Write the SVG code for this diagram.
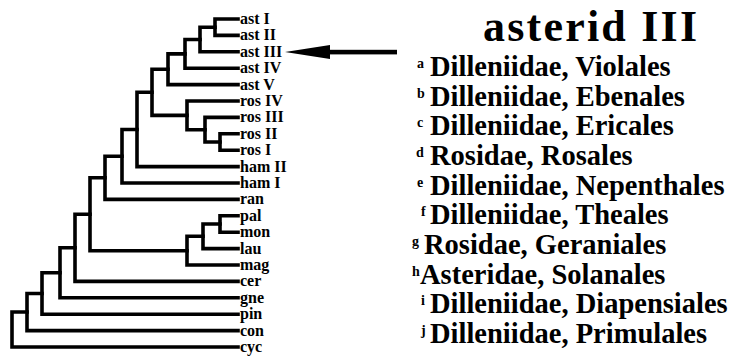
<svg xmlns="http://www.w3.org/2000/svg" width="735" height="360" viewBox="0 0 735 360">
<style>
.br{fill:none;stroke:#000;stroke-width:3.6;stroke-linecap:square;stroke-linejoin:miter}
.lf{font-family:"Liberation Serif","Times New Roman",serif;font-weight:bold;font-size:16px;fill:#000}
.lg{font-family:"Liberation Serif","Times New Roman",serif;font-weight:bold;font-size:28.5px;fill:#000}
.sp{font-family:"Liberation Serif","Times New Roman",serif;font-weight:bold;font-size:14px;fill:#000}
.tt{font-family:"Liberation Serif","Times New Roman",serif;font-weight:bold;font-size:44px;fill:#000}
</style>
<rect width="735" height="360" fill="#fff"/>
<g id="connectors">
<path class="br" d="M238 19 H215 V35.4 H238"/>
<path class="br" d="M215 27.2 H200 V51.8 H238"/>
<path class="br" d="M200 39.5 H185 V68.2 H238"/>
<path class="br" d="M185 53.9 H168 V84.6 H238"/>
<path class="br" d="M238 133.8 H220 V150.2 H238"/>
<path class="br" d="M238 117.4 H205 V142 H220"/>
<path class="br" d="M238 101 H187 V129.7 H205"/>
<path class="br" d="M168 69.2 H152 V115.4 H187"/>
<path class="br" d="M152 92.3 H137 V166.6 H238"/>
<path class="br" d="M137 129.5 H122 V183 H238"/>
<path class="br" d="M122 156.2 H105 V199.4 H238"/>
<path class="br" d="M238 215.8 H220 V232.2 H238"/>
<path class="br" d="M220 224 H203 V248.6 H238"/>
<path class="br" d="M203 236.3 H187 V265 H238"/>
<path class="br" d="M105 177.8 H90 V250.7 H187"/>
<path class="br" d="M90 214.2 H75 V281.4 H238"/>
<path class="br" d="M75 247.8 H60 V297.8 H238"/>
<path class="br" d="M60 272.8 H42 V314.2 H238"/>
<path class="br" d="M42 293.5 H27 V330.6 H238"/>
<path class="br" d="M27 312 H12 V347 H238"/>
</g>
<g id="leaf-astI"><text class="lf" x="240" y="24">ast I</text></g>
<g id="leaf-astII"><text class="lf" x="240" y="40.4">ast II</text></g>
<g id="leaf-astIII"><text class="lf" x="240" y="56.8">ast III</text></g>
<g id="leaf-astIV"><text class="lf" x="240" y="73.2">ast IV</text></g>
<g id="leaf-astV"><text class="lf" x="240" y="89.6">ast V</text></g>
<g id="leaf-rosIV"><text class="lf" x="240" y="106">ros IV</text></g>
<g id="leaf-rosIII"><text class="lf" x="240" y="122.4">ros III</text></g>
<g id="leaf-rosII"><text class="lf" x="240" y="138.8">ros II</text></g>
<g id="leaf-rosI"><text class="lf" x="240" y="155.2">ros I</text></g>
<g id="leaf-hamII"><text class="lf" x="240" y="171.6">ham II</text></g>
<g id="leaf-hamI"><text class="lf" x="240" y="188">ham I</text></g>
<g id="leaf-ran"><text class="lf" x="240" y="204.4">ran</text></g>
<g id="leaf-pal"><text class="lf" x="240" y="220.8">pal</text></g>
<g id="leaf-mon"><text class="lf" x="240" y="237.2">mon</text></g>
<g id="leaf-lau"><text class="lf" x="240" y="253.6">lau</text></g>
<g id="leaf-mag"><text class="lf" x="240" y="270">mag</text></g>
<g id="leaf-cer"><text class="lf" x="240" y="286.4">cer</text></g>
<g id="leaf-gne"><text class="lf" x="240" y="302.8">gne</text></g>
<g id="leaf-pin"><text class="lf" x="240" y="319.2">pin</text></g>
<g id="leaf-con"><text class="lf" x="240" y="335.6">con</text></g>
<g id="leaf-cyc"><text class="lf" x="240" y="352">cyc</text></g>
<g id="arrow">
<rect x="326" y="49.8" width="71" height="4.6" fill="#000"/>
<polygon points="285,52 330,45 330,59" fill="#000"/>
</g>
<g id="title"><text class="tt" x="483" y="41" textLength="214" lengthAdjust="spacing">asterid III</text></g>
<g id="legend-a"><text class="sp" x="417" y="68">a</text><text class="lg" x="430" y="76">Dilleniidae, Violales</text></g>
<g id="legend-b"><text class="sp" x="417" y="97.7">b</text><text class="lg" x="430" y="105.7">Dilleniidae, Ebenales</text></g>
<g id="legend-c"><text class="sp" x="417" y="127.3">c</text><text class="lg" x="430" y="135.3">Dilleniidae, Ericales</text></g>
<g id="legend-d"><text class="sp" x="416" y="157">d</text><text class="lg" x="430" y="165">Rosidae, Rosales</text></g>
<g id="legend-e"><text class="sp" x="417" y="186.7">e</text><text class="lg" x="430" y="194.7">Dilleniidae, Nepenthales</text></g>
<g id="legend-f"><text class="sp" x="421" y="216.3">f</text><text class="lg" x="430" y="224.3">Dilleniidae, Theales</text></g>
<g id="legend-g"><text class="sp" x="412" y="246">g</text><text class="lg" x="424" y="254">Rosidae, Geraniales</text></g>
<g id="legend-h"><text class="sp" x="412" y="275.7">h</text><text class="lg" x="420" y="283.7">Asteridae, Solanales</text></g>
<g id="legend-i"><text class="sp" x="421" y="305.3">i</text><text class="lg" x="430" y="313.3">Dilleniidae, Diapensiales</text></g>
<g id="legend-j"><text class="sp" x="421" y="335">j</text><text class="lg" x="430" y="343">Dilleniidae, Primulales</text></g>
</svg>
